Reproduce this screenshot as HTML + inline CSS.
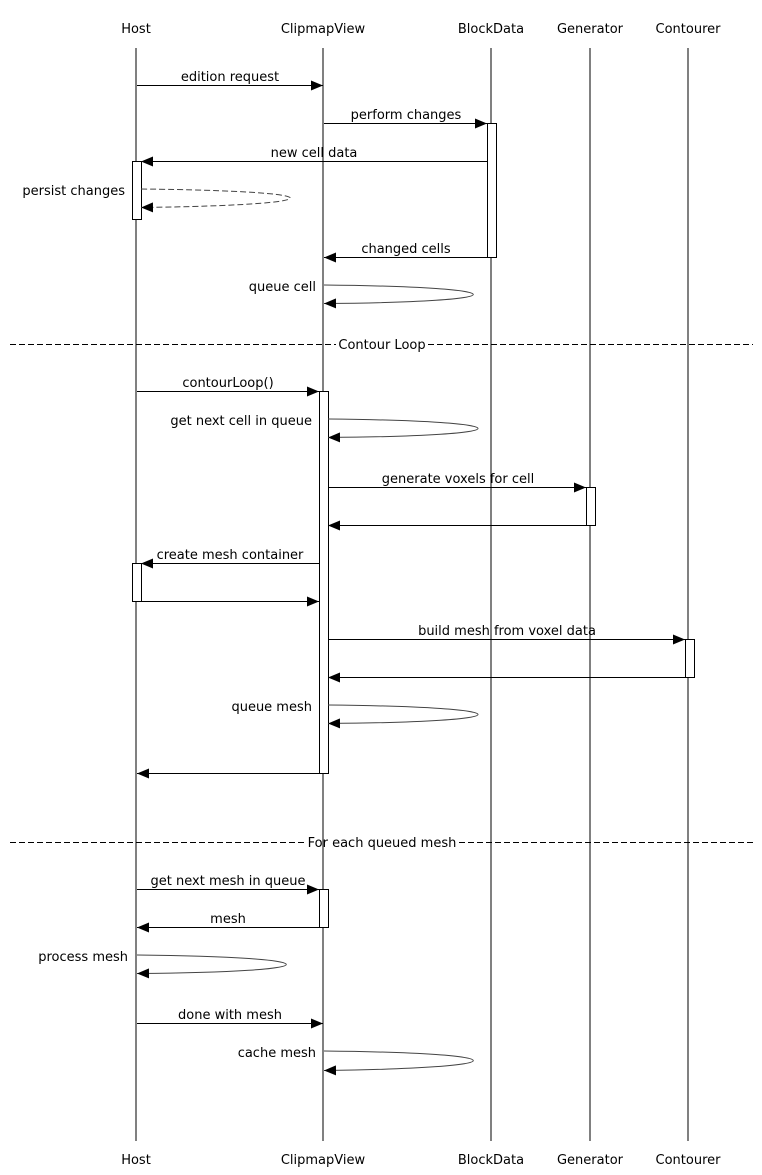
<!DOCTYPE html>
<html><head><meta charset="utf-8"><style>
html,body{margin:0;padding:0;background:#fff;}
svg{display:block;font-family:"DejaVu Sans","Liberation Sans",sans-serif;font-size:13px;}
</style></head><body>
<svg width="762" height="1175" viewBox="0 0 762 1175" xmlns="http://www.w3.org/2000/svg">
<defs>
<marker id="a" viewBox="0 0 12 10" refX="12" refY="5" markerWidth="12" markerHeight="10" markerUnits="userSpaceOnUse" orient="auto"><path d="M0,0 L12,5 L0,10 z" fill="#000"/></marker>
</defs>
<g text-anchor="middle" fill="#000">
<text x="136" y="33">Host</text><text x="323" y="33">ClipmapView</text><text x="491" y="33">BlockData</text><text x="590" y="33">Generator</text><text x="688" y="33">Contourer</text>
<text x="136" y="1164">Host</text><text x="323" y="1164">ClipmapView</text><text x="491" y="1164">BlockData</text><text x="590" y="1164">Generator</text><text x="688" y="1164">Contourer</text>
</g>
<g stroke="#000" stroke-width="1">
<line x1="136" y1="48" x2="136" y2="1141"/><line x1="323" y1="48" x2="323" y2="1141"/><line x1="491" y1="48" x2="491" y2="1141"/><line x1="590" y1="48" x2="590" y2="1141"/><line x1="688" y1="48" x2="688" y2="1141"/>
</g>
<g stroke="#000" fill="#fff">
<rect x="487.5" y="123.5" width="9" height="134"/>
<rect x="132.5" y="161.5" width="9" height="58"/>
<rect x="319.5" y="391.5" width="9" height="382"/>
<rect x="586.5" y="487.5" width="9" height="38"/>
<rect x="132.5" y="563.5" width="9" height="38"/>
<rect x="685.5" y="639.5" width="9" height="38"/>
<rect x="319.5" y="889.5" width="9" height="38"/>
</g>
<g stroke="#000" stroke-width="1" fill="none" marker-end="url(#a)">
<line x1="137" y1="85.5" x2="323" y2="85.5"/>
<line x1="324" y1="123.5" x2="487" y2="123.5"/>
<line x1="487" y1="161.5" x2="141" y2="161.5"/>
<path d="M141,189 C340,191 340,205 141,207.5" stroke-dasharray="6,3" stroke="#444"/>
<line x1="487" y1="257.5" x2="324" y2="257.5"/>
<path d="M324,285 C523,287 523,302 324,303.5" stroke="#444"/>
<line x1="137" y1="391.5" x2="319" y2="391.5"/>
<path d="M328,419 C528,421 528,436 328,437.5" stroke="#444"/>
<line x1="328" y1="487.5" x2="586" y2="487.5"/>
<line x1="586" y1="525.5" x2="328" y2="525.5"/>
<line x1="319" y1="563.5" x2="141" y2="563.5"/>
<line x1="141" y1="601.5" x2="319" y2="601.5"/>
<line x1="328" y1="639.5" x2="685" y2="639.5"/>
<line x1="685" y1="677.5" x2="328" y2="677.5"/>
<path d="M328,705 C528,707 528,722 328,723.5" stroke="#444"/>
<line x1="319" y1="773.5" x2="137" y2="773.5"/>
<line x1="137" y1="889.5" x2="319" y2="889.5"/>
<line x1="319" y1="927.5" x2="137" y2="927.5"/>
<path d="M137,955 C336,957 336,972 137,973.5" stroke="#444"/>
<line x1="137" y1="1023.5" x2="323" y2="1023.5"/>
<path d="M324,1051 C523,1053 523,1068 324,1070.5" stroke="#444"/>
</g>
<g stroke="#000" stroke-dasharray="6,3">
<line x1="10" y1="344.5" x2="336" y2="344.5"/><line x1="428" y1="344.5" x2="753" y2="344.5"/>
<line x1="10" y1="842.5" x2="305" y2="842.5"/><line x1="459" y1="842.5" x2="753" y2="842.5"/>
</g>
<g fill="#000" text-anchor="middle">
<text x="382" y="349">Contour Loop</text>
<text x="382" y="847">For each queued mesh</text>
<text x="230" y="81">edition request</text>
<text x="406" y="119">perform changes</text>
<text x="314" y="157">new cell data</text>
<text x="406" y="253">changed cells</text>
<text x="228" y="387">contourLoop()</text>
<text x="458" y="483">generate voxels for cell</text>
<text x="230" y="559">create mesh container</text>
<text x="507" y="635">build mesh from voxel data</text>
<text x="228" y="885">get next mesh in queue</text>
<text x="228" y="923">mesh</text>
<text x="230" y="1019">done with mesh</text>
</g>
<g fill="#000" text-anchor="end">
<text x="125" y="195">persist changes</text>
<text x="316" y="291">queue cell</text>
<text x="312" y="425">get next cell in queue</text>
<text x="312" y="711">queue mesh</text>
<text x="128" y="961">process mesh</text>
<text x="316" y="1057">cache mesh</text>
</g>
</svg>
</body></html>
